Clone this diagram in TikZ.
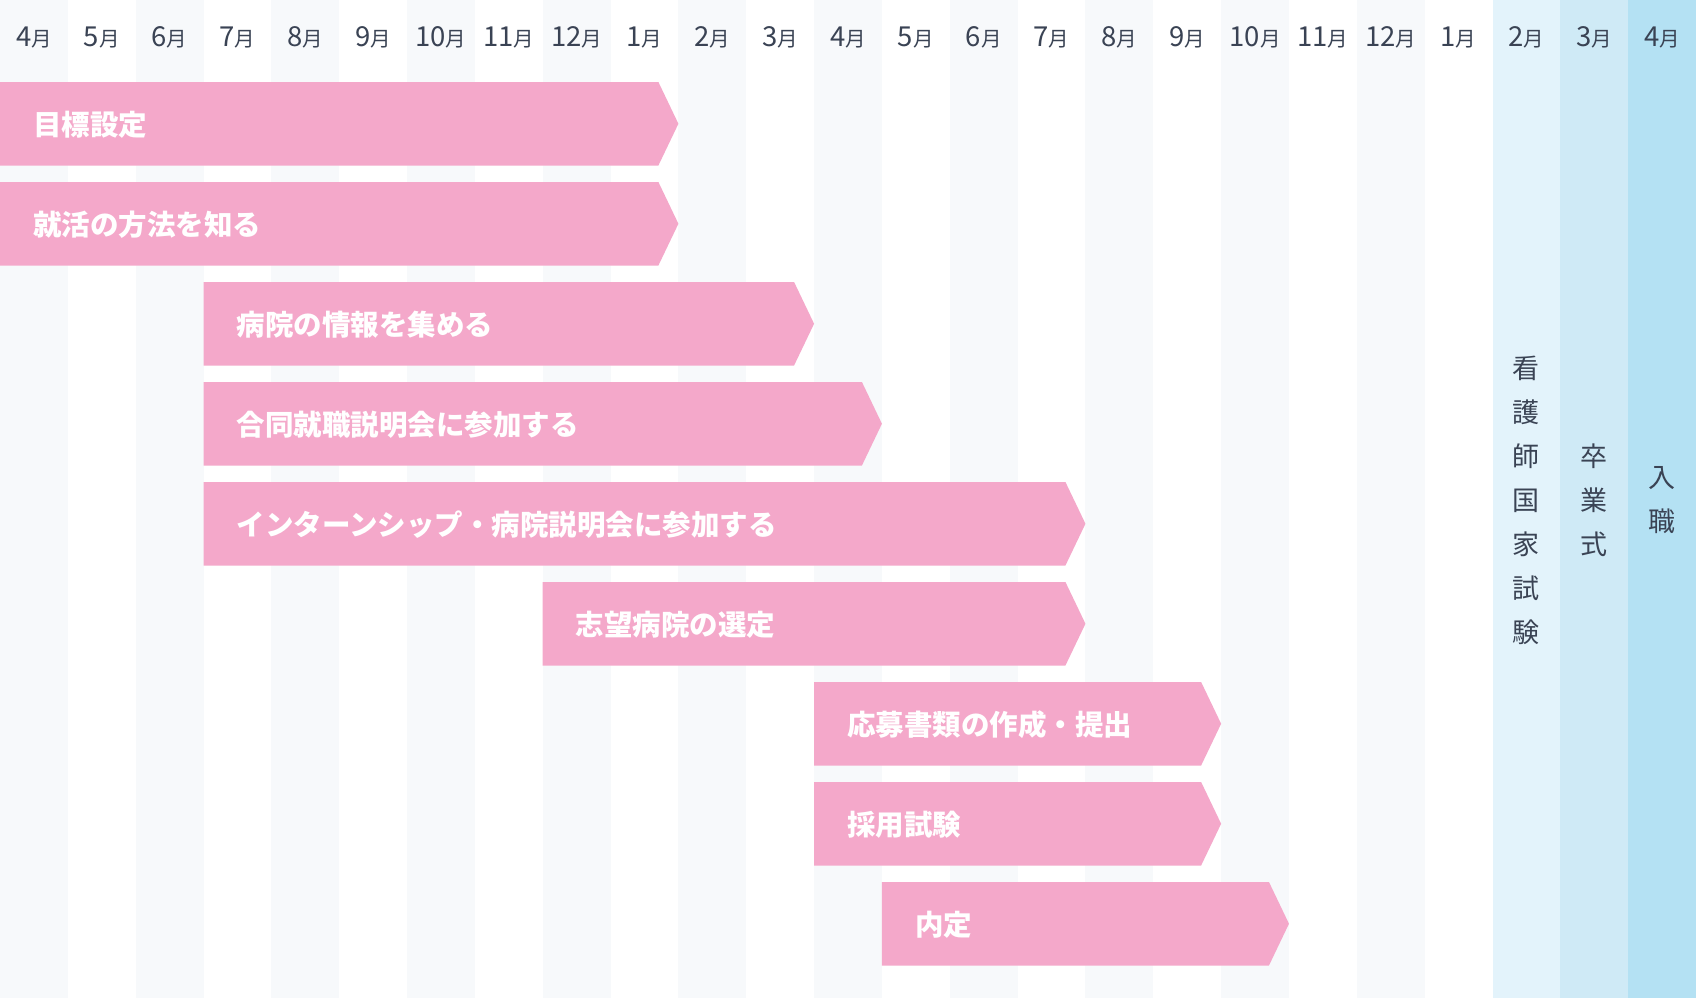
\documentclass[tikz,border=0pt]{standalone}
\usepackage{fontspec}
\setmainfont{Noto Sans CJK JP}
\newfontfamily\jp{Noto Sans CJK JP}
\definecolor{stripe}{HTML}{F7F9FB}
\definecolor{pinkbar}{HTML}{F4A8CA}
\definecolor{blueA}{HTML}{E3F3FB}
\definecolor{blueB}{HTML}{CFEAF6}
\definecolor{blueC}{HTML}{B4E1F3}
\definecolor{ink}{HTML}{3A4354}
\tikzset{
  monthlbl/.style={anchor=base, inner sep=0pt, text=ink},
  bartext/.style={anchor=west, inner sep=0pt, text=white, font=\jp\bfseries\fontsize{28.5}{28.5}\selectfont},
  barshape/.style={fill=pinkbar, draw=none},
  eventlbl/.style={inner sep=0pt, text=ink, align=center, font=\jp\fontsize{27}{44}\selectfont},
}
\begin{document}
\begin{tikzpicture}[x=1pt,y=-1pt]
\def\cw{67.84}
\useasboundingbox (0,0) rectangle (1696,998);
% column stripes
\foreach \i in {0,...,21}{
  \pgfmathparse{mod(\i,2)==0 ? "stripe" : "white"}
  \edef\col{\pgfmathresult}
  \fill[\col] ({\i*\cw},0) rectangle ({(\i+1)*\cw},998);
}
\fill[blueA] ({22*\cw},0) rectangle ({23*\cw},998);
\fill[blueB] ({23*\cw},0) rectangle ({24*\cw},998);
\fill[blueC] ({24*\cw},0) rectangle ({25*\cw},998);
% month labels
\foreach \m [count=\k from 0] in {4,5,6,7,8,9,10,11,12,1,2,3,4,5,6,7,8,9,10,11,12,1,2,3,4}{
  \node[monthlbl] (m\k) at ({(\k+0.5)*\cw},46.5) {\jp{\fontsize{27.5}{27.5}\selectfont \m}{\fontsize{20.5}{20.5}\selectfont 月}};
}
% bars: start col, tip col, row, text
\foreach \s/\e/\r/\t [count=\n] in {
  0/10/0/目標設定,
  0/10/1/就活の方法を知る,
  3/12/2/病院の情報を集める,
  3/13/3/合同就職説明会に参加する,
  3/16/4/インターンシップ・病院説明会に参加する,
  8/16/5/志望病院の選定,
  12/18/6/応募書類の作成・提出,
  12/18/7/採用試験,
  13/19/8/内定}{
  \pgfmathsetmacro\top{82+100*\r}
  \pgfmathsetmacro\bot{\top+83.5}
  \pgfmathsetmacro\mid{\top+41.75}
  \fill[barshape] ({\s*\cw},\top) -- ({\e*\cw-20},\top) -- ({\e*\cw},\mid) -- ({\e*\cw-20},\bot) -- ({\s*\cw},\bot) -- cycle;
  \node[bartext] (bar\n) at ({\s*\cw+33},\mid+1) {\t};
}
% event labels
\node[eventlbl] (exam) at ({22.5*\cw},500) {看\\護\\師\\国\\家\\試\\験};
\node[eventlbl] (grad) at ({23.5*\cw},500) {卒\\業\\式};
\node[eventlbl] (join) at ({24.5*\cw},500) {入\\職};
\end{tikzpicture}
\end{document}
